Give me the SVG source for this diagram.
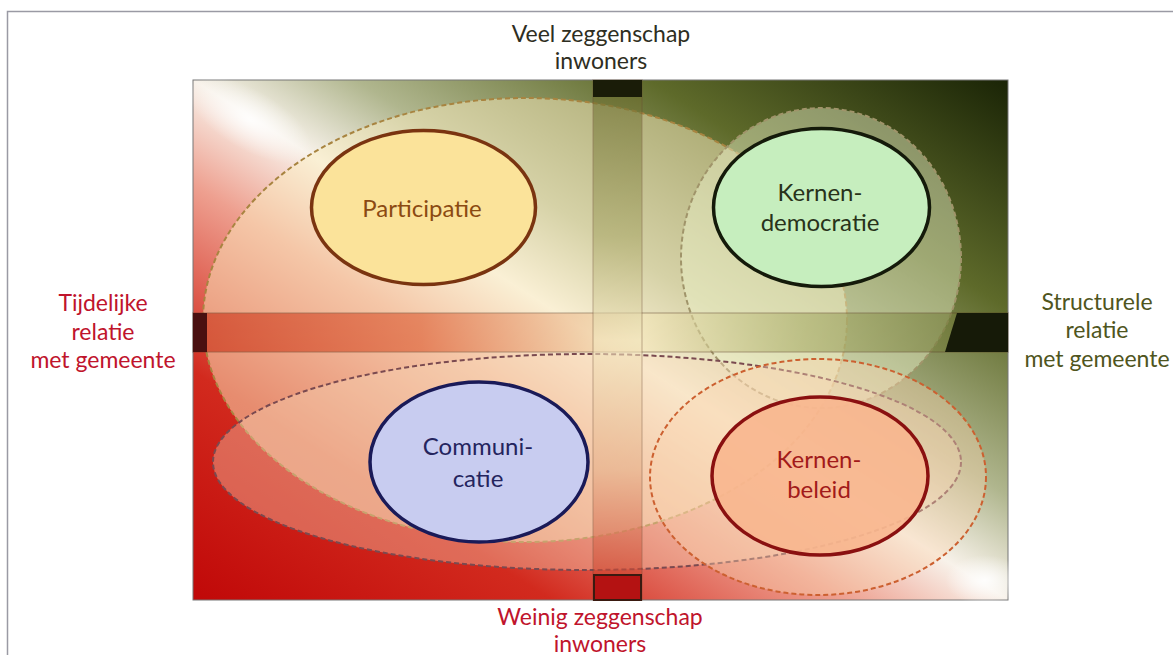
<svg xmlns="http://www.w3.org/2000/svg" width="1173" height="655" viewBox="0 0 1173 655">
<defs>
<linearGradient id="bg" x1="0" y1="1" x2="1" y2="0">
<stop offset="0" stop-color="#c00808"/>
<stop offset="0.22" stop-color="#d22a1e"/>
<stop offset="0.4" stop-color="#eea090"/>
<stop offset="0.5" stop-color="#f8f2ea"/>
<stop offset="0.6" stop-color="#b0b68e"/>
<stop offset="0.78" stop-color="#5e6a2a"/>
<stop offset="1" stop-color="#1a2406"/>
</linearGradient>
<radialGradient id="glow" cx="0.5" cy="0.5" r="0.5">
<stop offset="0" stop-color="#ffffff" stop-opacity="0.9"/>
<stop offset="1" stop-color="#ffffff" stop-opacity="0"/>
</radialGradient>
<linearGradient id="hbar" x1="0" y1="0" x2="1" y2="0">
<stop offset="0" stop-color="#c82a10"/>
<stop offset="0.28" stop-color="#dc5a30"/>
<stop offset="0.55" stop-color="#f4e6b8"/>
<stop offset="0.75" stop-color="#a8ac68"/>
<stop offset="1" stop-color="#5e6828"/>
</linearGradient>
<linearGradient id="vbar" x1="0" y1="0" x2="0" y2="1">
<stop offset="0" stop-color="#66682a"/>
<stop offset="0.3" stop-color="#aaa86a"/>
<stop offset="0.5" stop-color="#f2e6be"/>
<stop offset="0.75" stop-color="#e6b08a"/>
<stop offset="1" stop-color="#c82a18"/>
</linearGradient>
<style>
.lbl{font-family:Lato,"Liberation Sans",sans-serif;font-size:23px;text-anchor:middle}
.in{font-family:Lato,"Liberation Sans",sans-serif;font-size:24px;text-anchor:middle}
.dash{stroke-width:2;stroke-dasharray:5 3}
.solid{stroke-width:3.5}
</style>
</defs>
<!-- frame -->
<path d="M7.5 655 V11.5 H1173" fill="none" stroke="#9a9aa4" stroke-width="1.5"/>
<!-- background -->
<g id="background">
<rect x="193" y="80" width="815" height="520" fill="url(#bg)" stroke="#777" stroke-width="1"/>
<ellipse cx="250" cy="120" rx="70" ry="30" fill="url(#glow)" transform="rotate(30 250 120)"/>
<ellipse cx="985" cy="580" rx="40" ry="25" fill="url(#glow)"/>
</g>
<g id="zones">
<ellipse id="zone-participatie" cx="525" cy="320" rx="322" ry="222" fill="#fbeec0" fill-opacity="0.5" stroke="#a88440" class="dash"/>
<ellipse id="zone-kernendemocratie" cx="821" cy="258" rx="140" ry="150" fill="#eef4cc" fill-opacity="0.45" stroke="#a0946a" class="dash"/>
<ellipse id="zone-communicatie" cx="587" cy="462" rx="374" ry="108" fill="#f8d8b8" fill-opacity="0.38" stroke="#7a4a50" class="dash"/>
<ellipse id="zone-kernenbeleid" cx="818" cy="477" rx="168" ry="118" fill="#fbd4b0" fill-opacity="0.4" stroke="#cc6030" class="dash"/>
</g>
<g id="axes">
<rect x="193" y="313" width="815" height="39" fill="url(#hbar)" opacity="0.6" stroke="#5a3a20" stroke-opacity="0.5" stroke-width="1.5"/>
<rect x="593" y="80" width="49" height="520" fill="url(#vbar)" opacity="0.6" stroke="#6a4a30" stroke-opacity="0.45" stroke-width="1.5"/>
<rect x="193" y="313" width="14" height="39" fill="#4a1010"/>
<path d="M957 313 H1008 V352 H945 Z" fill="#161a08"/>
<rect x="593" y="80" width="49" height="17" fill="#1a1c08"/>
<rect x="594" y="575" width="47" height="25" fill="#b41212" stroke="#3a1a10" stroke-width="2"/>
</g>
<g id="participatie">
<ellipse cx="423.5" cy="207.5" rx="112" ry="77" fill="#fbe39a" stroke="#7a3410" class="solid"/>
<text class="in" x="422" y="217" fill="#8b4a12">Participatie</text>
</g>
<g id="kernendemocratie">
<ellipse cx="821.5" cy="207.5" rx="108" ry="79" fill="#c6eebe" stroke="#141a0a" class="solid"/>
<text class="in" x="820" y="201" fill="#28321a">Kernen-</text>
<text class="in" x="820" y="231" fill="#28321a">democratie</text>
</g>
<g id="communicatie">
<ellipse cx="479" cy="462" rx="109" ry="80" fill="#c8ccf0" stroke="#1a1a58" class="solid"/>
<text class="in" x="478" y="455" fill="#24245e">Communi-</text>
<text class="in" x="478" y="487" fill="#24245e">catie</text>
</g>
<g id="kernenbeleid">
<ellipse cx="820" cy="476" rx="108" ry="79" fill="#f8b68e" fill-opacity="0.9" stroke="#8a1010" class="solid"/>
<text class="in" x="819" y="468" fill="#a21a1a">Kernen-</text>
<text class="in" x="819" y="498" fill="#a21a1a">beleid</text>
</g>
<g id="label-top">
<text class="lbl" x="601" y="42" fill="#2e2e22">Veel zeggenschap</text>
<text class="lbl" x="601" y="69" fill="#2e2e22">inwoners</text>
</g>
<g id="label-bottom">
<text class="lbl" x="600" y="625" fill="#c0142c">Weinig zeggenschap</text>
<text class="lbl" x="600" y="652" fill="#c0142c">inwoners</text>
</g>
<g id="label-left">
<text class="lbl" x="103" y="311" fill="#c0142c">Tijdelijke</text>
<text class="lbl" x="103" y="340" fill="#c0142c">relatie</text>
<text class="lbl" x="103" y="368" fill="#c0142c">met gemeente</text>
</g>
<g id="label-right">
<text class="lbl" x="1097" y="310" fill="#4f5520">Structurele</text>
<text class="lbl" x="1097" y="338" fill="#4f5520">relatie</text>
<text class="lbl" x="1097" y="367" fill="#4f5520">met gemeente</text>
</g>
</svg>
